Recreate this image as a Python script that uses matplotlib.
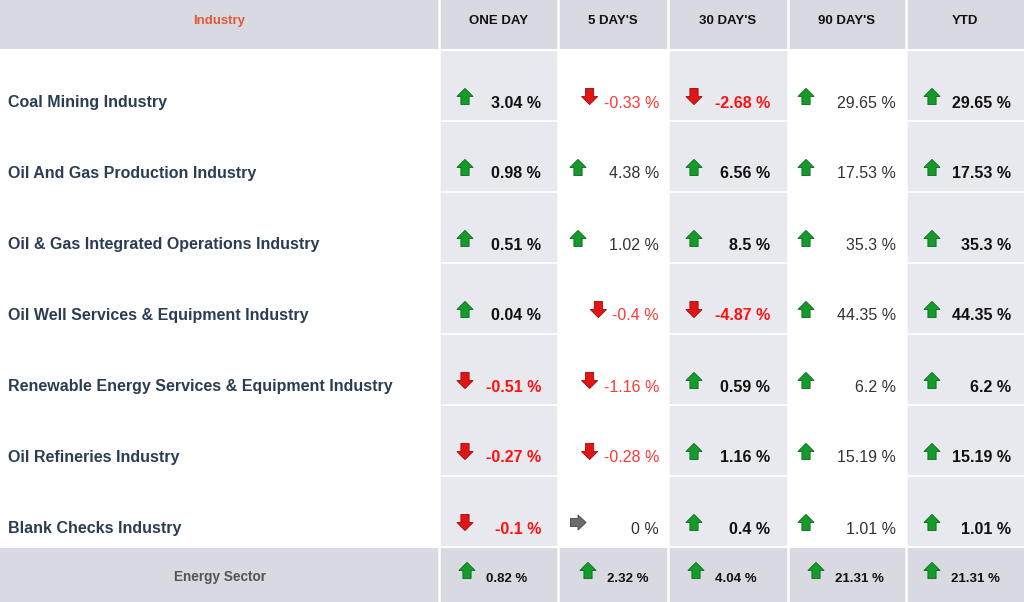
import matplotlib
matplotlib.use('Agg')
import matplotlib.pyplot as plt
from matplotlib.patches import Rectangle, Polygon

plt.rcParams['font.family'] = ['Liberation Sans', 'DejaVu Sans']

industries = ['Coal Mining Industry', 'Oil And Gas Production Industry',
              'Oil & Gas Integrated Operations Industry',
              'Oil Well Services & Equipment Industry',
              'Renewable Energy Services & Equipment Industry',
              'Oil Refineries Industry', 'Blank Checks Industry']
periods = ['ONE DAY', "5 DAY'S", "30 DAY'S", "90 DAY'S", 'YTD']

one_day = [3.04, 0.98, 0.51, 0.04, -0.51, -0.27, -0.1]
five_day = [-0.33, 4.38, 1.02, -0.4, -1.16, -0.28, 0]
thirty_day = [-2.68, 6.56, 8.5, -4.87, 0.59, 1.16, 0.4]
ninety_day = [29.65, 17.53, 35.3, 44.35, 6.2, 15.19, 1.01]
ytd = [29.65, 17.53, 35.3, 44.35, 6.2, 15.19, 1.01]
columns = [one_day, five_day, thirty_day, ninety_day, ytd]

sector_name = 'Energy Sector'
sector_values = [0.82, 2.32, 4.04, 21.31, 21.31]

# layout (pixels)
W, H = 1024, 602
col_edges = [0, 439, 558, 668, 788, 906, 1024]
header_h = 50
row_h = 71
footer_top = header_h + row_h * len(industries)
bold_cols = [True, False, True, False, True]
shaded_cols = [True, False, True, False, True]
right_pad = [17, 9, 18, 10, 13]
arrow_off = [26, 20, 26, 18, 26]

HEAD_BG = '#d8d9e1'
SHADE_BG = '#e8e9ef'
NAME_C = '#2b3d52'
GREEN = '#169a2c'
GREEN_E = '#0a6b1a'
RED = '#e01515'
RED_E = '#a00a0a'
GREY = '#6b6b70'

fig = plt.figure(figsize=(W / 100, H / 100), dpi=100)
ax = fig.add_axes([0, 0, 1, 1])
ax.set_xlim(0, W)
ax.set_ylim(H, 0)
ax.axis('off')


def arrow(cx, cy, kind, s=1.08):
    if kind == 'up':
        pts = [(0, -7.5), (7.5, 0), (3.8, 0), (3.8, 7.5), (-3.8, 7.5), (-3.8, 0), (-7.5, 0)]
        fc, ec = GREEN, GREEN_E
    elif kind == 'down':
        pts = [(0, 7.5), (7.5, 0), (3.8, 0), (3.8, -7.5), (-3.8, -7.5), (-3.8, 0), (-7.5, 0)]
        fc, ec = RED, RED_E
    else:
        pts = [(7.5, 0), (0, 7), (0, 3.8), (-7, 3.8), (-7, -3.8), (0, -3.8), (0, -7)]
        fc, ec = GREY, '#444448'
    ax.add_patch(Polygon([(cx + x * s, cy + y * s) for x, y in pts], closed=True,
                         fc=fc, ec=ec, lw=0.6, zorder=3))


# backgrounds
ax.add_patch(Rectangle((0, 0), W, header_h, fc=HEAD_BG, ec='none'))
ax.add_patch(Rectangle((0, footer_top), W, H - footer_top, fc=HEAD_BG, ec='none'))
for j in range(5):
    if shaded_cols[j]:
        x0, x1 = col_edges[j + 1], col_edges[j + 2]
        ax.add_patch(Rectangle((x0, header_h), x1 - x0, footer_top - header_h,
                               fc=SHADE_BG, ec='none'))
        for i in range(1, len(industries)):
            y = header_h + i * row_h
            ax.plot([x0, x1], [y, y], color='white', lw=1.2, zorder=2)
for x in col_edges[1:-1]:
    ax.plot([x, x], [0, H], color='white', lw=1.8, zorder=2)
ax.plot([0, W], [header_h, header_h], color='white', lw=1.5, zorder=2)
ax.plot([0, W], [footer_top, footer_top], color='white', lw=1.5, zorder=2)

# header
ax.text(col_edges[1] / 2, 21, 'Industry', ha='center', va='center',
        fontsize=9.5, fontweight='bold', color='#e05a35')
for j, p in enumerate(periods):
    xc = (col_edges[j + 1] + col_edges[j + 2]) / 2
    ax.text(xc, 21, p, ha='center', va='center', fontsize=9.5,
            fontweight='bold', color='#111111')

fig.canvas.draw()
renderer = fig.canvas.get_renderer()

# body
for i, name in enumerate(industries):
    yc = header_h + i * row_h + row_h / 2 + 16
    ax.text(8, yc + 1, name, ha='left', va='center', fontsize=11.5,
            fontweight='bold', color=NAME_C)
    for j, vals in enumerate(columns):
        v = vals[i]
        x0, x1 = col_edges[j + 1], col_edges[j + 2]
        b = bold_cols[j]
        if v < 0:
            c = '#ff1010' if b else '#ff3838'
        else:
            c = '#111111' if b else '#333333'
        t = ax.text(x1 - right_pad[j], yc + 1.5, f'{v:g} %', ha='right', va='center',
                    fontsize=11.5, fontweight='bold' if b else 'normal', color=c)
        kind = 'up' if v > 0 else ('down' if v < 0 else 'right')
        ax_ = x0 + arrow_off[j]
        if j == 1 and v < 0:
            bb = t.get_window_extent(renderer)
            ax_ = bb.x0 - 14
        arrow(ax_, yc - 5, kind)

# footer
yf = (footer_top + H) / 2 + 3
ax.text(col_edges[1] / 2, yf, sector_name, ha='center', va='center',
        fontsize=9.8, fontweight='bold', color='#555555')
foot_arrow = [28, 30, 28, 28, 26]
for j, v in enumerate(sector_values):
    x0 = col_edges[j + 1]
    xa = x0 + foot_arrow[j]
    arrow(xa, yf - 7, 'up' if v > 0 else ('down' if v < 0 else 'right'))
    ax.text(xa + 19, yf + 1, f'{v:g} %', ha='left', va='center', fontsize=9.5,
            fontweight='bold', color='#111111')

fig.savefig('out.png', dpi=100)
